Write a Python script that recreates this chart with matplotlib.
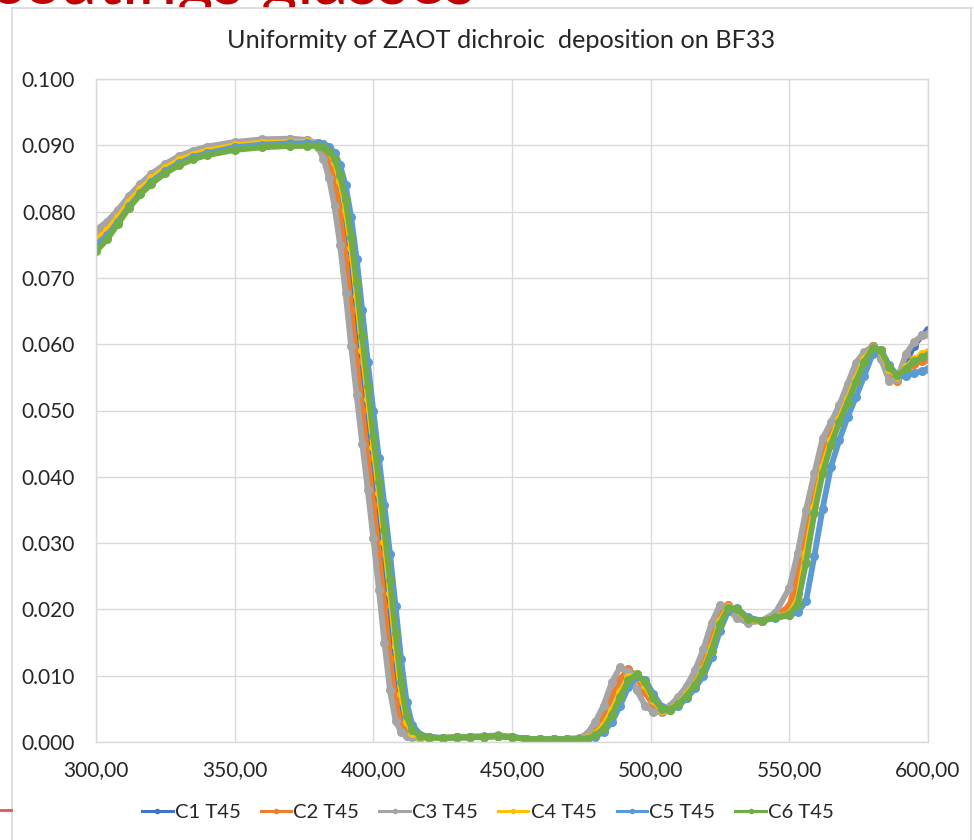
#!/usr/bin/env python3
from __future__ import annotations

import matplotlib

matplotlib.use("Agg")
import matplotlib.pyplot as plt
from matplotlib.lines import Line2D
from matplotlib.patches import Rectangle

# wavelength grid (nm) shared by all six scans
WAVELENGTH = [
    300, 304, 308, 312, 316, 320, 325, 330, 335, 340, 350, 360, 370, 376,
    380, 382, 384, 386, 388, 390, 392, 394, 396, 398, 400, 402, 404, 406, 408, 410, 412, 414, 417, 420,
    425, 430, 435, 440, 445, 450, 455, 460, 465, 470, 474,
    477, 480, 483, 486, 489, 492, 495, 498, 501, 504, 507, 510, 513, 516, 519, 522, 525, 528, 531, 535, 540, 545, 550,
    553, 556, 559, 562, 565, 568, 571, 574, 577, 580, 583, 586, 589, 592, 595, 598, 600,
]

C1_T45 = [
    0.0755, 0.0770, 0.0790, 0.0813, 0.0832, 0.0848, 0.0864, 0.0876, 0.0884, 0.0890, 0.0898, 0.0902, 0.0904, 0.0904,
    0.0902, 0.0897, 0.0885, 0.0862, 0.0828, 0.0775, 0.0712, 0.0630, 0.0555, 0.0480, 0.0410, 0.0340, 0.0265, 0.0185,
    0.0105, 0.0045, 0.0020, 0.0010, 0.0007, 0.0006,
    0.0006, 0.0007, 0.0007, 0.0008, 0.0009, 0.0007, 0.0005, 0.0004, 0.0004, 0.0004, 0.0005,
    0.0007, 0.0015, 0.0030, 0.0055, 0.0083, 0.0102, 0.0101, 0.0082, 0.0060, 0.0047, 0.0050, 0.0060, 0.0075, 0.0092,
    0.0115, 0.0150, 0.0190, 0.0205, 0.0198, 0.0183, 0.0183, 0.0190, 0.0195,
    0.0225, 0.0300, 0.0370, 0.0425, 0.0462, 0.0492, 0.0522, 0.0555, 0.0582, 0.0597, 0.0588, 0.0558, 0.0550, 0.0572,
    0.0598, 0.0614, 0.0622,
]
C2_T45 = [
    0.0763, 0.0778, 0.0797, 0.0819, 0.0838, 0.0853, 0.0869, 0.0881, 0.0889, 0.0895, 0.0903, 0.0907, 0.0909, 0.0908,
    0.0903, 0.0893, 0.0874, 0.0843, 0.0795, 0.0730, 0.0652, 0.0573, 0.0500, 0.0428, 0.0357, 0.0284, 0.0205, 0.0125,
    0.0060, 0.0025, 0.0012, 0.0008, 0.0007, 0.0006,
    0.0006, 0.0007, 0.0008, 0.0008, 0.0009, 0.0007, 0.0005, 0.0004, 0.0004, 0.0004, 0.0005,
    0.0009, 0.0020, 0.0040, 0.0068, 0.0095, 0.0110, 0.0098, 0.0075, 0.0055, 0.0046, 0.0052, 0.0063, 0.0078, 0.0097,
    0.0122, 0.0160, 0.0198, 0.0206, 0.0195, 0.0182, 0.0182, 0.0190, 0.0205,
    0.0250, 0.0325, 0.0390, 0.0440, 0.0472, 0.0500, 0.0530, 0.0563, 0.0587, 0.0597, 0.0583, 0.0550, 0.0545, 0.0560,
    0.0570, 0.0575, 0.0578,
]
C3_T45 = [
    0.0772, 0.0785, 0.0803, 0.0824, 0.0842, 0.0857, 0.0872, 0.0884, 0.0892, 0.0898, 0.0905, 0.0909, 0.0910, 0.0908,
    0.0897, 0.0880, 0.0851, 0.0808, 0.0750, 0.0677, 0.0597, 0.0523, 0.0450, 0.0380, 0.0307, 0.0230, 0.0150, 0.0078,
    0.0032, 0.0015, 0.0009, 0.0007, 0.0006, 0.0006,
    0.0006, 0.0007, 0.0008, 0.0009, 0.0010, 0.0008, 0.0005, 0.0004, 0.0004, 0.0005, 0.0006,
    0.0012, 0.0030, 0.0055, 0.0090, 0.0113, 0.0105, 0.0078, 0.0055, 0.0045, 0.0046, 0.0055, 0.0068, 0.0085, 0.0108,
    0.0140, 0.0180, 0.0207, 0.0200, 0.0187, 0.0180, 0.0183, 0.0195, 0.0232,
    0.0285, 0.0350, 0.0405, 0.0458, 0.0482, 0.0508, 0.0540, 0.0572, 0.0588, 0.0596, 0.0578, 0.0545, 0.0548, 0.0585,
    0.0603, 0.0614, 0.0616,
]
C4_T45 = [
    0.0757, 0.0772, 0.0792, 0.0815, 0.0834, 0.0850, 0.0866, 0.0878, 0.0886, 0.0892, 0.0900, 0.0904, 0.0905, 0.0905,
    0.0904, 0.0900, 0.0892, 0.0875, 0.0846, 0.0803, 0.0745, 0.0672, 0.0592, 0.0518, 0.0445, 0.0375, 0.0302, 0.0225,
    0.0145, 0.0073, 0.0030, 0.0014, 0.0008, 0.0006,
    0.0006, 0.0007, 0.0007, 0.0008, 0.0009, 0.0007, 0.0005, 0.0004, 0.0004, 0.0004, 0.0004,
    0.0006, 0.0012, 0.0025, 0.0048, 0.0076, 0.0098, 0.0102, 0.0086, 0.0063, 0.0048, 0.0049, 0.0058, 0.0072, 0.0088,
    0.0110, 0.0143, 0.0183, 0.0204, 0.0200, 0.0185, 0.0183, 0.0189, 0.0193,
    0.0215, 0.0285, 0.0355, 0.0415, 0.0455, 0.0487, 0.0517, 0.0548, 0.0577, 0.0595, 0.0590, 0.0562, 0.0552, 0.0565,
    0.0577, 0.0585, 0.0588,
]
C5_T45 = [
    0.0750, 0.0764, 0.0785, 0.0808, 0.0828, 0.0845, 0.0861, 0.0873, 0.0882, 0.0888, 0.0897, 0.0901, 0.0903, 0.0903,
    0.0903, 0.0902, 0.0898, 0.0889, 0.0870, 0.0840, 0.0792, 0.0728, 0.0651, 0.0573, 0.0499, 0.0428, 0.0357, 0.0284,
    0.0205, 0.0125, 0.0060, 0.0026, 0.0011, 0.0008,
    0.0006, 0.0007, 0.0007, 0.0008, 0.0009, 0.0007, 0.0005, 0.0004, 0.0004, 0.0004, 0.0004,
    0.0005, 0.0008, 0.0015, 0.0030, 0.0055, 0.0083, 0.0099, 0.0094, 0.0072, 0.0053, 0.0048, 0.0054, 0.0066, 0.0081,
    0.0100, 0.0128, 0.0168, 0.0198, 0.0202, 0.0188, 0.0183, 0.0187, 0.0191,
    0.0196, 0.0212, 0.0280, 0.0352, 0.0415, 0.0455, 0.0490, 0.0520, 0.0552, 0.0585, 0.0592, 0.0568, 0.0553, 0.0552,
    0.0556, 0.0560, 0.0563,
]
C6_T45 = [
    0.0740, 0.0758, 0.0782, 0.0806, 0.0826, 0.0842, 0.0858, 0.0870, 0.0879, 0.0885, 0.0893, 0.0897, 0.0899, 0.0899,
    0.0899, 0.0897, 0.0892, 0.0880, 0.0855, 0.0817, 0.0761, 0.0692, 0.0612, 0.0537, 0.0462, 0.0392, 0.0320, 0.0245,
    0.0165, 0.0090, 0.0039, 0.0018, 0.0009, 0.0007,
    0.0006, 0.0007, 0.0007, 0.0008, 0.0009, 0.0007, 0.0005, 0.0004, 0.0004, 0.0004, 0.0004,
    0.0005, 0.0010, 0.0020, 0.0040, 0.0068, 0.0093, 0.0102, 0.0090, 0.0066, 0.0050, 0.0049, 0.0057, 0.0070, 0.0086,
    0.0107, 0.0138, 0.0178, 0.0202, 0.0201, 0.0186, 0.0183, 0.0188, 0.0192,
    0.0208, 0.0270, 0.0345, 0.0405, 0.0448, 0.0482, 0.0512, 0.0543, 0.0573, 0.0594, 0.0592, 0.0565, 0.0553, 0.0563,
    0.0574, 0.0580, 0.0584,
]

SERIES_NAMES = ["C1 T45", "C2 T45", "C3 T45", "C4 T45", "C5 T45", "C6 T45"]
SERIES_VALUES = [C1_T45, C2_T45, C3_T45, C4_T45, C5_T45, C6_T45]
COLORS = ["#4472C4", "#ED7D31", "#A5A5A5", "#FFC000", "#5B9BD5", "#70AD47"]

X_TICKS = [300, 350, 400, 450, 500, 550, 600]
X_TICK_LABELS = ["300,00", "350,00", "400,00", "450,00", "500,00", "550,00", "600,00"]
Y_TICKS = [0.0, 0.01, 0.02, 0.03, 0.04, 0.05, 0.06, 0.07, 0.08, 0.09, 0.10]
Y_TICK_LABELS = ["0.000", "0.010", "0.020", "0.030", "0.040", "0.050",
                 "0.060", "0.070", "0.080", "0.090", "0.100"]

TITLE = "Uniformity of ZAOT dichroic  deposition on BF33"


def main() -> None:
    plt.rcParams["font.family"] = ["Lato", "DejaVu Sans"]
    W, H = 974, 840
    fig = plt.figure(figsize=(W / 100, H / 100), dpi=100)
    fig.patch.set_facecolor("white")

    def fx(px):
        return px / W

    def fy(py):
        return 1 - py / H

    # slide heading peeking out above the chart box
    fig.text(fx(-10), fy(4), "coatings glasses", color="#C00000", fontsize=50,
             ha="left", va="baseline", zorder=0.5)
    # white chart box hides everything under its edge
    fig.add_artist(Rectangle((fx(12), 0), fx(972) - fx(12), fy(8), transform=fig.transFigure,
                             facecolor="white", edgecolor="none", zorder=1))
    for xs, ys in [([fx(12), fx(12)], [0, fy(8)]),
                   ([fx(12), fx(972)], [fy(8), fy(8)]),
                   ([fx(971), fx(971)], [0, fy(8)])]:
        fig.add_artist(Line2D(xs, ys, transform=fig.transFigure, color="#d9d9d9", lw=1.2, zorder=1.5))
    fig.add_artist(Line2D([0, fx(11)], [fy(810), fy(810)], transform=fig.transFigure,
                          color="#E8505B", lw=2, zorder=1.5))

    ax = fig.add_axes([fx(96), fy(742), fx(928) - fx(96), fy(79) - fy(742)])
    ax.set_zorder(2)
    ax.set_facecolor("white")

    for name, vals, color in zip(SERIES_NAMES, SERIES_VALUES, COLORS):
        ax.plot(WAVELENGTH, vals, color=color, lw=4.2, marker="o", markersize=6.5,
                markeredgewidth=0, label=name, solid_capstyle="round")

    ax.set_xlim(300, 600)
    ax.set_ylim(0, 0.1)
    ax.set_xticks(X_TICKS)
    ax.set_xticklabels(X_TICK_LABELS)
    ax.set_yticks(Y_TICKS)
    ax.set_yticklabels(Y_TICK_LABELS)
    ax.tick_params(axis="both", length=0, labelsize=15, colors="#262626")
    ax.tick_params(axis="y", pad=15)
    ax.tick_params(axis="x", pad=13)
    ax.grid(True, color="#d9d9d9", lw=1.0)
    ax.set_axisbelow(True)
    for side in ax.spines.values():
        side.set_color("#d9d9d9")
        side.set_linewidth(1.0)

    fig.text(fx(501), fy(40), TITLE, ha="center", va="center", fontsize=18.2, color="#262626")

    handles = [Line2D([], [], color=c, lw=2.2, marker="o", markersize=4, markeredgewidth=0)
               for c in COLORS]
    fig.legend(handles, SERIES_NAMES, loc="center", bbox_to_anchor=(fx(488), fy(812)), ncol=6,
               frameon=False, fontsize=14.6, handlelength=1.5, handletextpad=0.1,
               columnspacing=1.0, labelcolor="#262626")

    fig.savefig("out.png", dpi=100, facecolor="white")
    print("wrote out.png")


if __name__ == "__main__":
    main()
